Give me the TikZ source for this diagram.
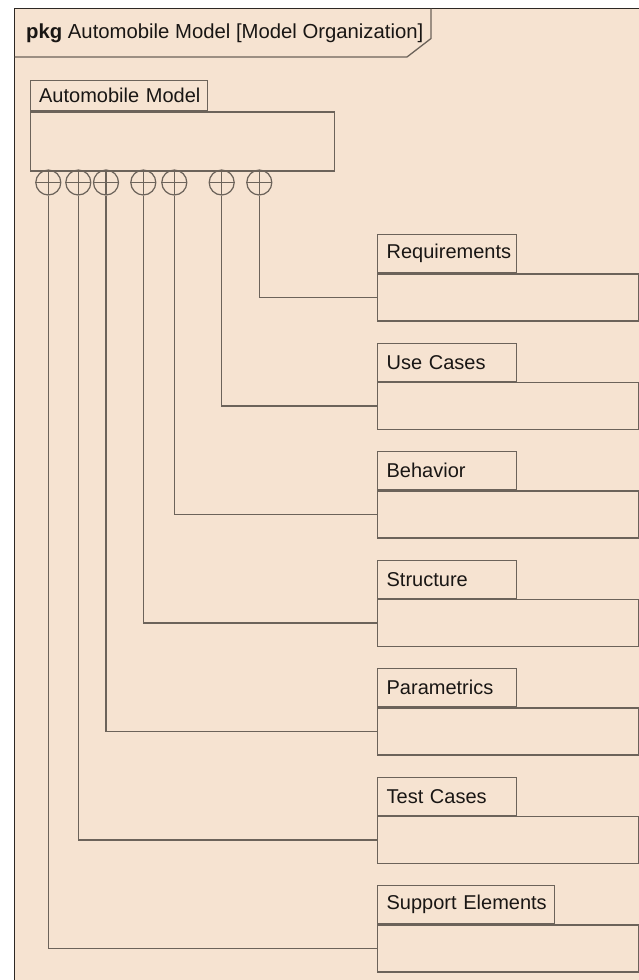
\documentclass[tikz,border=0pt]{standalone}
\usepackage{fontspec}
\setmainfont{Liberation Sans}
\definecolor{paper}{RGB}{246,227,209}
\definecolor{edge}{RGB}{108,99,90}
\definecolor{frameline}{RGB}{45,40,36}
\definecolor{ink}{RGB}{25,22,20}

\tikzset{
  lbl/.style={font=\fontsize{20}{24}\selectfont, text=ink},
  pkgtab/.style={draw=edge, line width=1.3, anchor=north west, inner xsep=9pt,
    inner ysep=0pt, align=left, lbl},
  pkgbody/.style={draw=edge, line width=1.3, anchor=north west, inner sep=0pt},
  contain/.style={circle, draw=edge, line width=1.2, minimum size=25pt, inner sep=0pt,
    path picture={\draw[edge, line width=1.2]
      (path picture bounding box.north) -- (path picture bounding box.south)
      (path picture bounding box.west) -- (path picture bounding box.east);}},
  conn/.style={draw=edge, line width=1.3},
}

\begin{document}
\begin{tikzpicture}[x=1pt, y=-1pt]
\useasboundingbox (0,0) rectangle (638,980);
\fill[white] (0,0) rectangle (638,980);

% diagram frame and its heading tab
\fill[paper] (14.5,8.5) rectangle (640,984);
\draw[frameline, line width=1.8] (14.5,984) -- (14.5,8.5) -- (640,8.5);
\draw[edge, line width=1.3] (14.5,57) -- (407,57) -- (431,38.5) -- (431,8.5);
\node[lbl, font=\fontsize{20.3}{24}\selectfont, anchor=base west, inner sep=0pt] (title) at (26,38)
  {\textbf{pkg} Automobile Model [Model Organization]};

% top-level package
\node[pkgtab, minimum height=30pt, text width=159.5pt] (amT) at (29.5,80) {\mbox{Automobile Model}};
\node[pkgbody, minimum width=304.5pt, minimum height=59pt] (amB) at (amT.south west) {};

% containment markers under the top-level package
\foreach \k/\x in {1/48.3, 2/78.3, 3/106, 4/143.3, 5/174.3, 6/221.7, 7/259.3}
  \node[contain] (k\k) at (\x,182.5) {};

% nested packages
\foreach \n/\txt/\w/\y in {
    req/Requirements/139/234,
    uc/Use Cases/139/342.5,
    beh/Behavior/139/451,
    str/Structure/139/559.5,
    par/Parametrics/139/668,
    tc/Test Cases/139/776.5,
    sup/Support Elements/177/885}{
  \pgfmathsetmacro{\tw}{\w-18}
  \node[pkgtab, minimum height=38pt, text width=\tw pt] (\n T) at (377,\y) {\mbox{\txt}};
  \node[pkgbody, minimum width=260.5pt, minimum height=47pt] (\n B) at (\n T.south west) {};
}

% containment connectors
\draw[conn] (k7.south) |- (reqB.west);
\draw[conn] (k6.south) |- (ucB.west);
\draw[conn] (k5.south) |- (behB.west);
\draw[conn] (k4.south) |- (strB.west);
\draw[conn] (k3.south) |- (parB.west);
\draw[conn] (k2.south) |- (tcB.west);
\draw[conn] (k1.south) |- (supB.west);
\end{tikzpicture}
\end{document}
